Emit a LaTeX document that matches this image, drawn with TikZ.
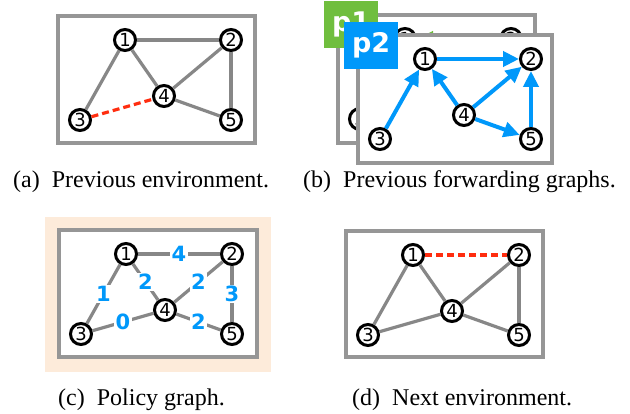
\documentclass[tikz,border=0pt]{standalone}
\usepackage{fontspec}
\setmainfont{Liberation Serif}
\newfontfamily\dvs{DejaVu Sans}
\usetikzlibrary{arrows.meta}
\definecolor{edgegray}{RGB}{135,135,135}
\definecolor{boxgray}{RGB}{150,150,150}
\definecolor{linkred}{RGB}{255,45,15}
\definecolor{pblue}{RGB}{0,152,250}
\definecolor{pgreen}{RGB}{112,190,62}
\definecolor{peach}{RGB}{253,235,218}
\newcommand\gnodes[1]{%
  \node[gnode] (#11) at (67,24) {1};
  \node[gnode] (#12) at (173,24) {2};
  \node[gnode] (#13) at (22,104) {3};
  \node[gnode] (#14) at (106,80) {4};
  \node[gnode] (#15) at (173,104) {5};}
\begin{document}
\begin{tikzpicture}[x=1pt,y=-1pt,
  gnode/.style={circle,draw=black,line width=3pt,fill=white,inner sep=0pt,minimum size=21pt,font=\dvs\fontsize{18}{18}\selectfont},
  frame/.style={draw=boxgray,line width=3.2pt,fill=white},
  link/.style={draw=edgegray,line width=3.2pt},
  newlink/.style={draw=linkred,line width=3.2pt,dash pattern=on 7pt off 4pt},
  barrow/.style={draw=pblue,line width=4pt,-{Triangle[length=16pt,width=15pt]}},
  garrow/.style={draw=pgreen,line width=4pt,-{Triangle[length=16pt,width=15pt]}},
  elabel/.style={fill=white,inner sep=1.5pt,text=pblue,font=\dvs\bfseries\fontsize{21}{21}\selectfont},
  tag/.style={minimum width=54pt,minimum height=47pt,inner sep=0pt,anchor=north west,text=white,font=\dvs\bfseries\fontsize{27}{27}\selectfont},
  captext/.style={anchor=base west,inner sep=0pt,font=\fontsize{24}{24}\selectfont}
]
\useasboundingbox (0,0) rectangle (630,414);

% (a)
\begin{scope}[shift={(58,16)}]
  \draw[frame] (0,0) rectangle (197,127);
  \gnodes{a}
  \draw[link] (a1) -- (a2);
  \draw[link] (a1) -- (a3);
  \draw[link] (a1) -- (a4);
  \draw[link] (a2) -- (a4);
  \draw[link] (a2) -- (a5);
  \draw[link] (a4) -- (a5);
  \draw[newlink] (a3) -- (a4);
\end{scope}

% (b) p1
\begin{scope}[shift={(338,15)}]
  \draw[frame] (0,0) rectangle (197,128);
  \gnodes{p}
  \draw[garrow] (p2) -- (p1);
  \draw[garrow] (p3) -- (p1);
\end{scope}
\node[tag,fill=pgreen] (tagone) at (324,1) {p1};
% (b) p2
\begin{scope}[shift={(358,35)}]
  \draw[frame] (0,0) rectangle (194,128);
  \gnodes{q}
  \draw[barrow] (q1) -- (q2);
  \draw[barrow] (q3) -- (q1);
  \draw[barrow] (q4) -- (q1);
  \draw[barrow] (q4) -- (q2);
  \draw[barrow] (q4) -- (q5);
  \draw[barrow] (q5) -- (q2);
\end{scope}
\node[tag,fill=pblue] (tagtwo) at (344,22) {p2};

% (c)
\fill[peach] (45,217) rectangle (271,372);
\begin{scope}[shift={(59,230)}]
  \draw[frame] (0,0) rectangle (198,127);
  \gnodes{c}
  \draw[link] (c1) -- node[elabel] {4} (c2);
  \draw[link] (c1) -- node[elabel] {1} (c3);
  \draw[link] (c1) -- node[elabel] {2} (c4);
  \draw[link] (c2) -- node[elabel] {2} (c4);
  \draw[link] (c2) -- node[elabel] {3} (c5);
  \draw[link] (c3) -- node[elabel] {0} (c4);
  \draw[link] (c4) -- node[elabel] {2} (c5);
\end{scope}

% (d)
\begin{scope}[shift={(346,231)}]
  \draw[frame] (0,0) rectangle (197,126);
  \gnodes{d}
  \draw[newlink] (d1) -- (d2);
  \draw[link] (d1) -- (d3);
  \draw[link] (d1) -- (d4);
  \draw[link] (d2) -- (d4);
  \draw[link] (d2) -- (d5);
  \draw[link] (d3) -- (d4);
  \draw[link] (d4) -- (d5);
\end{scope}

% captions
\node[captext] (capa) at (13,188) {(a)\hspace{0.5em}Previous environment.};
\node[captext] (capb) at (303,188) {(b)\hspace{0.5em}Previous forwarding graphs.};
\node[captext] (capc) at (58,406) {(c)\hspace{0.5em}Policy graph.};
\node[captext] (capd) at (352,406) {(d)\hspace{0.5em}Next environment.};
\end{tikzpicture}
\end{document}
